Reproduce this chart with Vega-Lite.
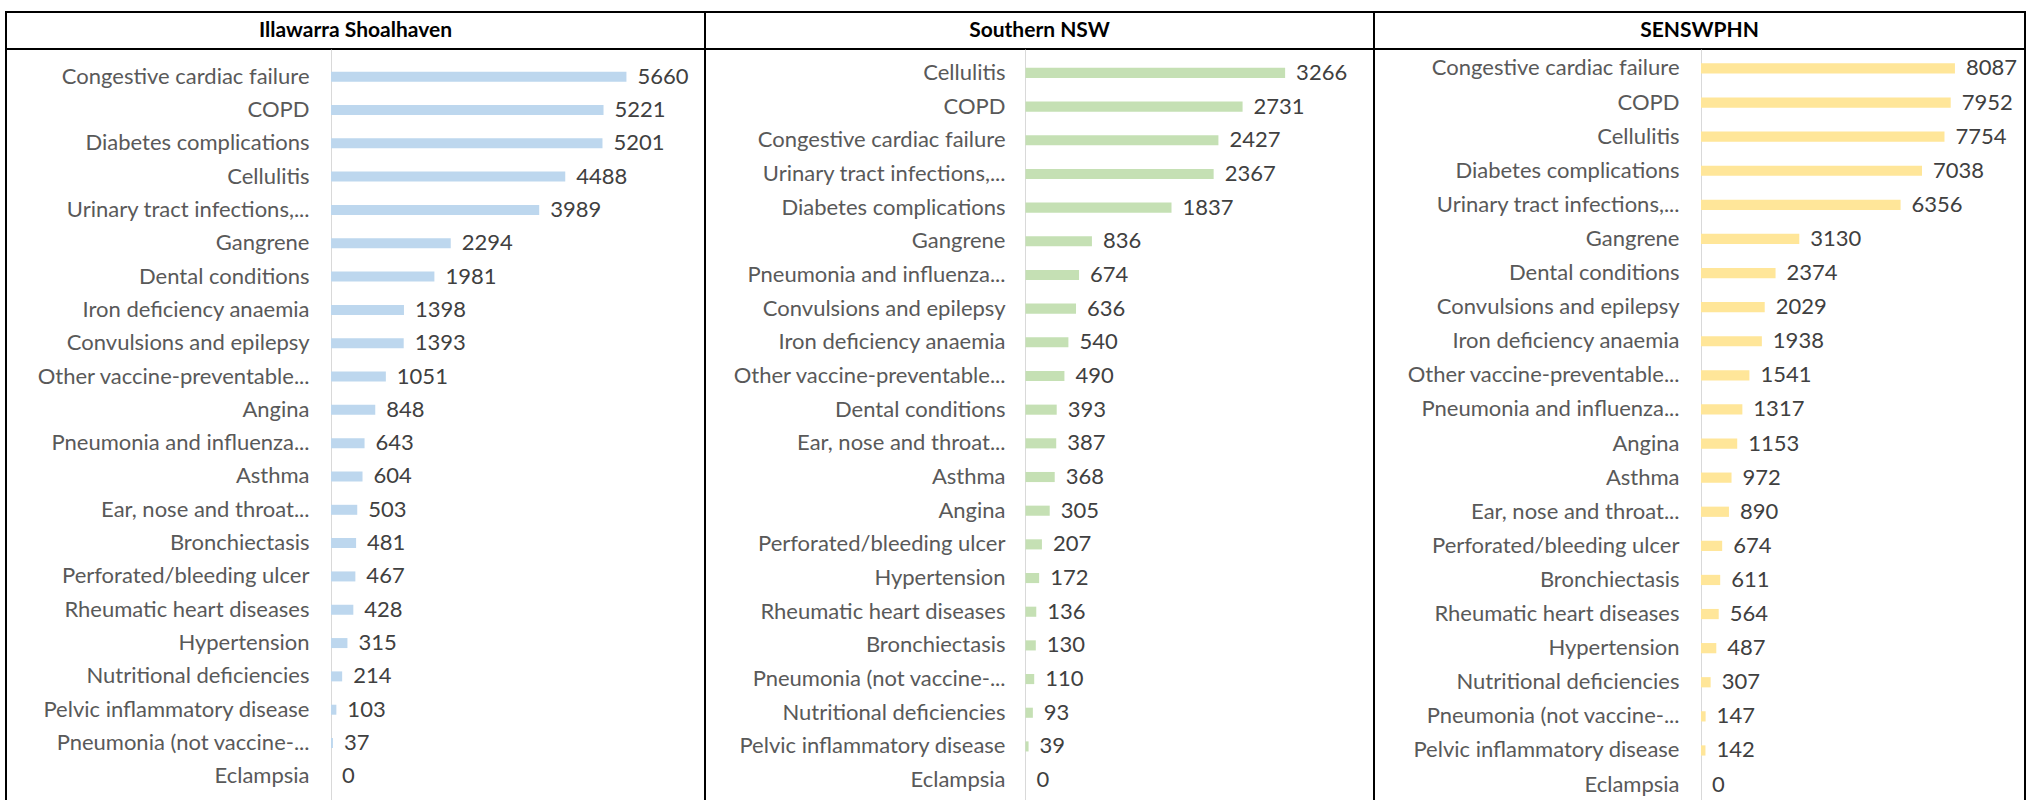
{
  "$schema": "https://vega.github.io/schema/vega-lite/v6.json",
  "padding": {"left": 5, "top": 11, "right": 0, "bottom": 0},
  "background": "white",
  "config": {
    "view": {"stroke": "black", "strokeWidth": 2},
    "concat": {"spacing": 0},
    "font": "Lato",
    "axis": {"grid": false}
  },
  "datasets": {
    "illawarra": [
      {"condition": "Congestive cardiac failure", "value": 5660},
      {"condition": "COPD", "value": 5221},
      {"condition": "Diabetes complications", "value": 5201},
      {"condition": "Cellulitis", "value": 4488},
      {"condition": "Urinary tract infections,...", "value": 3989},
      {"condition": "Gangrene", "value": 2294},
      {"condition": "Dental conditions", "value": 1981},
      {"condition": "Iron deficiency anaemia", "value": 1398},
      {"condition": "Convulsions and epilepsy", "value": 1393},
      {"condition": "Other vaccine-preventable...", "value": 1051},
      {"condition": "Angina", "value": 848},
      {"condition": "Pneumonia and influenza...", "value": 643},
      {"condition": "Asthma", "value": 604},
      {"condition": "Ear, nose and throat...", "value": 503},
      {"condition": "Bronchiectasis", "value": 481},
      {"condition": "Perforated/bleeding ulcer", "value": 467},
      {"condition": "Rheumatic heart diseases", "value": 428},
      {"condition": "Hypertension", "value": 315},
      {"condition": "Nutritional deficiencies", "value": 214},
      {"condition": "Pelvic inflammatory disease", "value": 103},
      {"condition": "Pneumonia (not vaccine-...", "value": 37},
      {"condition": "Eclampsia", "value": 0}
    ],
    "southern": [
      {"condition": "Cellulitis", "value": 3266},
      {"condition": "COPD", "value": 2731},
      {"condition": "Congestive cardiac failure", "value": 2427},
      {"condition": "Urinary tract infections,...", "value": 2367},
      {"condition": "Diabetes complications", "value": 1837},
      {"condition": "Gangrene", "value": 836},
      {"condition": "Pneumonia and influenza...", "value": 674},
      {"condition": "Convulsions and epilepsy", "value": 636},
      {"condition": "Iron deficiency anaemia", "value": 540},
      {"condition": "Other vaccine-preventable...", "value": 490},
      {"condition": "Dental conditions", "value": 393},
      {"condition": "Ear, nose and throat...", "value": 387},
      {"condition": "Asthma", "value": 368},
      {"condition": "Angina", "value": 305},
      {"condition": "Perforated/bleeding ulcer", "value": 207},
      {"condition": "Hypertension", "value": 172},
      {"condition": "Rheumatic heart diseases", "value": 136},
      {"condition": "Bronchiectasis", "value": 130},
      {"condition": "Pneumonia (not vaccine-...", "value": 110},
      {"condition": "Nutritional deficiencies", "value": 93},
      {"condition": "Pelvic inflammatory disease", "value": 39},
      {"condition": "Eclampsia", "value": 0}
    ],
    "senswphn": [
      {"condition": "Congestive cardiac failure", "value": 8087},
      {"condition": "COPD", "value": 7952},
      {"condition": "Cellulitis", "value": 7754},
      {"condition": "Diabetes complications", "value": 7038},
      {"condition": "Urinary tract infections,...", "value": 6356},
      {"condition": "Gangrene", "value": 3130},
      {"condition": "Dental conditions", "value": 2374},
      {"condition": "Convulsions and epilepsy", "value": 2029},
      {"condition": "Iron deficiency anaemia", "value": 1938},
      {"condition": "Other vaccine-preventable...", "value": 1541},
      {"condition": "Pneumonia and influenza...", "value": 1317},
      {"condition": "Angina", "value": 1153},
      {"condition": "Asthma", "value": 972},
      {"condition": "Ear, nose and throat...", "value": 890},
      {"condition": "Perforated/bleeding ulcer", "value": 674},
      {"condition": "Bronchiectasis", "value": 611},
      {"condition": "Rheumatic heart diseases", "value": 564},
      {"condition": "Hypertension", "value": 487},
      {"condition": "Nutritional deficiencies", "value": 307},
      {"condition": "Pneumonia (not vaccine-...", "value": 147},
      {"condition": "Pelvic inflammatory disease", "value": 142},
      {"condition": "Eclampsia", "value": 0}
    ]
  },
  "columns": 3,
  "spacing": 0,
  "bounds": "flush",
  "concat": [
    {
      "width": 699, "height": 37,
      "data": {"values": [{"panel": "Illawarra Shoalhaven"}]},
      "mark": {"type": "text", "fontSize": 21, "fontWeight": "bold", "color": "black", "font": "Lato"},
      "encoding": {
        "x": {"field": "panel", "type": "nominal", "axis": null},
        "y": {"field": "panel", "type": "nominal", "axis": null},
        "text": {"field": "panel"}
      }
    },
    {
      "width": 669, "height": 37,
      "data": {"values": [{"panel": "Southern NSW"}]},
      "mark": {"type": "text", "fontSize": 21, "fontWeight": "bold", "color": "black", "font": "Lato"},
      "encoding": {
        "x": {"field": "panel", "type": "nominal", "axis": null},
        "y": {"field": "panel", "type": "nominal", "axis": null},
        "text": {"field": "panel"}
      }
    },
    {
      "width": 651, "height": 37,
      "data": {"values": [{"panel": "SENSWPHN"}]},
      "mark": {"type": "text", "fontSize": 21, "fontWeight": "bold", "color": "black", "font": "Lato"},
      "encoding": {
        "x": {"field": "panel", "type": "nominal", "axis": null},
        "y": {"field": "panel", "type": "nominal", "axis": null},
        "text": {"field": "panel"}
      }
    },
    {
      "width": 699, "height": 755,
      "data": {"name": "illawarra"},
      "encoding": {
        "y": {"field": "condition", "type": "nominal", "sort": null,
          "scale": {"paddingInner": 0.7, "paddingOuter": 0.68},
          "axis": {"title": null, "offset": -325, "domainColor": "#d9d9d9", "domainWidth": 1, "ticks": false, "tickSize": 0, "labelPadding": 22, "labelFont": "Lato", "labelFontSize": 22, "labelColor": "#595959", "labelLimit": 400}},
        "x": {"field": "value", "type": "quantitative", "scale": {"domain": [-6226, 7165], "nice": false}, "axis": null}
      },
      "layer": [
        {"mark": {"type": "bar", "color": "#BDD7EE"}},
        {"mark": {"type": "text", "align": "left", "dx": 11, "fontSize": 22, "color": "#404040", "font": "Lato"},
         "encoding": {"text": {"field": "value", "type": "quantitative", "format": "d"}}}
      ]
    },
    {
      "width": 669, "height": 755,
      "data": {"name": "southern"},
      "encoding": {
        "y": {"field": "condition", "type": "nominal", "sort": null,
          "scale": {"paddingInner": 0.7, "paddingOuter": 0.56},
          "axis": {"title": null, "offset": -320, "domainColor": "#d9d9d9", "domainWidth": 1, "ticks": false, "tickSize": 0, "labelPadding": 20, "labelFont": "Lato", "labelFontSize": 22, "labelColor": "#595959", "labelLimit": 400}},
        "x": {"field": "value", "type": "quantitative", "scale": {"domain": [-4031, 4384], "nice": false}, "axis": null}
      },
      "layer": [
        {"mark": {"type": "bar", "color": "#C5E0B4"}},
        {"mark": {"type": "text", "align": "left", "dx": 11, "fontSize": 22, "color": "#404040", "font": "Lato"},
         "encoding": {"text": {"field": "value", "type": "quantitative", "format": "d"}}}
      ]
    },
    {
      "width": 651, "height": 755,
      "data": {"name": "senswphn"},
      "encoding": {
        "y": {"field": "condition", "type": "nominal", "sort": null,
          "scale": {"paddingInner": 0.7, "paddingOuter": 0.42},
          "axis": {"title": null, "offset": -327, "domainColor": "#d9d9d9", "domainWidth": 1, "ticks": false, "tickSize": 0, "labelPadding": 22, "labelFont": "Lato", "labelFontSize": 22, "labelColor": "#595959", "labelLimit": 400}},
        "x": {"field": "value", "type": "quantitative", "scale": {"domain": [-10414, 10318], "nice": false}, "axis": null}
      },
      "layer": [
        {"mark": {"type": "bar", "color": "#FFE699"}},
        {"mark": {"type": "text", "align": "left", "dx": 11, "fontSize": 22, "color": "#404040", "font": "Lato"},
         "encoding": {"text": {"field": "value", "type": "quantitative", "format": "d"}}}
      ]
    }
  ]
}
